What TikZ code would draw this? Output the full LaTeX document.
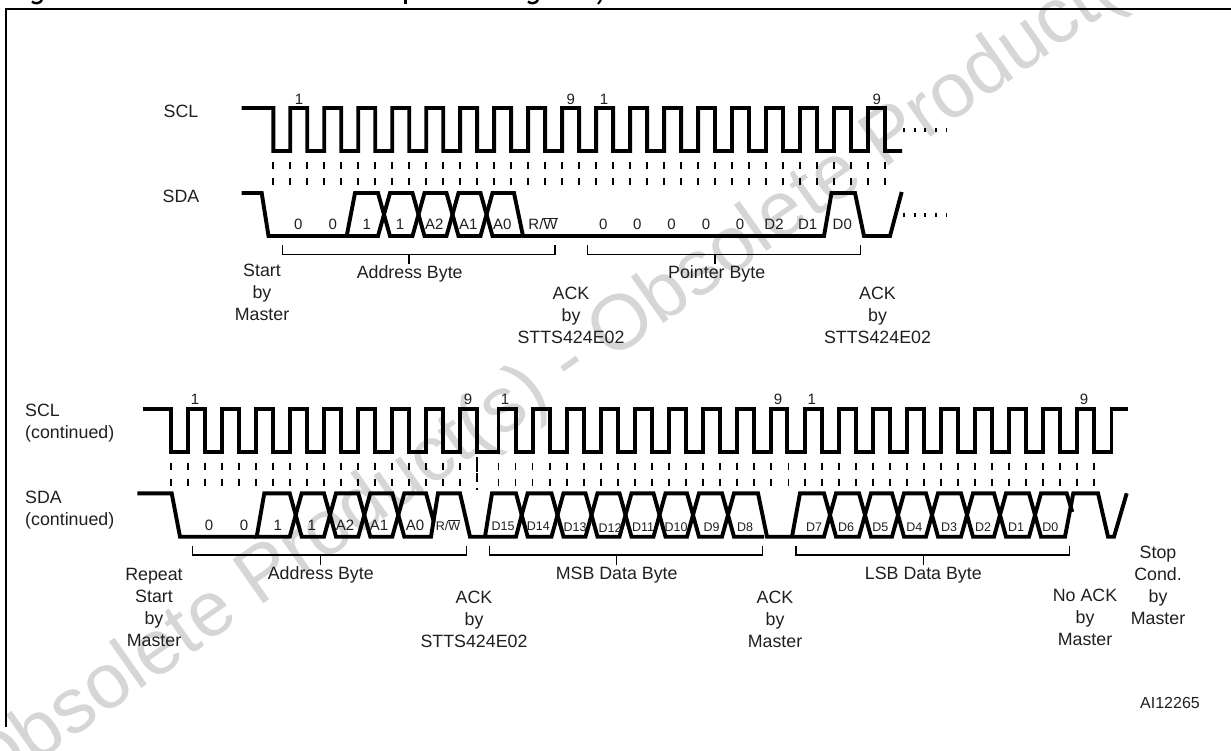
\documentclass[tikz,border=0pt]{standalone}
\usepackage{fontspec}
\setmainfont{Liberation Sans}
\definecolor{wm}{HTML}{D6D6D6}
\newcommand{\fsz}[2]{\fontsize{#1}{#2}\selectfont}
\newcommand{\ovw}[1]{$\overline{\mbox{#1}}$}
\newcommand{\cellrow}[3]{% hi lo list of left/right pairs
  \foreach \a/\b in {#3}{
    \draw[wave] (\a,{(#1+#2)/2}) -- (\a+6,#1) -- (\b-6,#1) -- (\b,{(#1+#2)/2}) -- (\b-6,#2) -- (\a+6,#2) -- cycle;}}
\newcommand{\tickrow}[5]{% start step count r1 r2
  \foreach \i in {0,...,#3}{
    \draw[tick] ({#1+#2*\i},#4) -- ++(0,7.5);
    \draw[tick] ({#1+#2*\i},#5) -- ++(0,7.5);}}
\newcommand{\bytebrk}[4]{% left right center ybar
  \draw[brk] (#1,#4-9) -- (#1,#4) -- (#2,#4) -- (#2,#4-9);
  \draw[brk] (#3,#4) -- (#3,#4+9.5);}
\tikzset{
  wave/.style={line width=3.9pt,line join=miter,miter limit=3,black},
  tick/.style={line width=1.7pt,black},
  brk/.style={line width=1.4pt,black},
  dots/.style={line width=3.4pt,dash pattern=on 2pt off 8.7pt,black},
  lab/.style={inner sep=0pt,anchor=mid,yshift=-3pt,text=black!88,font=\fsz{17.8}{22}},
  mlab/.style={inner sep=0pt,anchor=north,align=center,text=black!88,font=\fsz{17.8}{22}},
  cel/.style={inner sep=0pt,anchor=mid,yshift=-3pt,text=black!88,font=\fsz{15}{18}},
  num/.style={inner sep=0pt,anchor=mid,yshift=-3pt,text=black!88,font=\fsz{15}{18}},
  sm/.style={inner sep=0pt,anchor=mid,yshift=-2pt,text=black!88,font=\fsz{12.5}{15}},
}
\begin{document}
\begin{tikzpicture}[x=1pt,y=-1pt]
\useasboundingbox (0,0) rectangle (1231,751);
% watermark
\begin{scope}
\clip (0,0) rectangle (1231,751);
\node[inner sep=0pt,anchor=base west,rotate=35,text=wm,font=\fsz{78}{90}] (wmark) at (-15,799) {Obsolete Product(s) - Obsolete Product(s)};
\end{scope}
% frame
\draw[line width=2.6pt] (6,727) -- (6,9) -- (1231,9);
% clipped title descenders
\fill[black] (403.7,0) rectangle (406.7,4);
\foreach \x in {37,533}{\draw[line width=2.4pt] (\x-5,1.5) .. controls (\x-3,4) and (\x+3,4) .. (\x+5,0);}
\draw[line width=2pt] (601,0) -- (598,4);
% ---------- upper SCL
\draw[wave] (241.7,108) -- (273.3,108)
  \foreach \i in {0,2,...,34}{ -- ({273.3+16.99*\i},151) -- ({273.3+16.99*(\i+1)},151) -- ({273.3+16.99*(\i+1)},108) -- ({273.3+16.99*(\i+2)},108)}
  -- (885,151) -- (902,151);
\tickrow{273.3}{16.99}{36}{162}{178}
\draw[dots] (903,130) -- (946,130);
% ---------- upper SDA
\draw[wave] (241.7,193) -- (261.7,193) -- (268.5,236) -- (346.7,236);
\draw[wave] (346.7,236) -- (355,193) -- (378,193) -- (384,214.5) -- (378,236) -- cycle;
\cellrow{193}{236}{384/418.5,418.5/452.5,452.5/486.5}
\draw[wave] (486.5,214.5) -- (492.5,193) -- (514,193) -- (523,236) -- (824,236) -- (831.5,193) -- (855,193) -- (864,236) -- (890,236) -- (901.7,192);
\draw[wave] (486.5,214.5) -- (492.5,236) -- (521,236);
\draw[dots] (903,215) -- (946,215);
% braces upper
\bytebrk{282.3}{555}{409}{254.3}
\bytebrk{587.7}{860.7}{715}{254.3}
% labels upper
\node[lab] (scl1) at (181,112) {SCL};
\node[lab] (sda1) at (181,197) {SDA};
\foreach \x/\t in {299/1,570.7/9,604/1,876.7/9}{\node[num] at (\x,99) {\t};}
\foreach \x/\t in {298.3/0,332.7/0,366.7/1,400/1,434.3/A2,468.3/A1,502.3/A0,603.3/0,637.3/0,671.5/0,706/0,740/0,774/D2,807.7/D1,842.3/D0}{\node[cel] at (\x,224) {\t};}
\node[cel] (rw1) at (543,224) {R/\ovw{W}};
\node[mlab] (start1) at (262,264) {Start\\by\\Master};
\node[lab] (addr1) at (409.7,273) {Address Byte};
\node[lab] (ptr) at (716.7,273) {Pointer Byte};
\node[mlab] (ack1) at (571,287) {ACK\\by\\STTS424E02};
\node[mlab] (ack2) at (877.5,287) {ACK\\by\\STTS424E02};
% ---------- lower SCL
\draw[wave] (142.7,409) -- (171,409)
  \foreach \i in {0,2,...,16}{ -- ({171+17*\i},451.7) -- ({171+17*(\i+1)},451.7) -- ({171+17*(\i+1)},409) -- ({171+17*(\i+2)},409)}
  -- (477,451.7) -- (498.5,451.7) -- (498.5,409)
  \foreach \i in {0,2,...,14}{ -- ({498.5+17.05*\i+17.05},409) -- ({498.5+17.05*\i+17.05},451.7) -- ({498.5+17.05*\i+34.1},451.7) -- ({498.5+17.05*\i+34.1},409)}
  -- (787.3,409) -- (787.3,451.7) -- (804.7,451.7) -- (804.7,409)
  \foreach \i in {0,2,...,14}{ -- ({804.7+17*\i+17},409) -- ({804.7+17*\i+17},451.7) -- ({804.7+17*\i+34},451.7) -- ({804.7+17*\i+34},409)}
  -- (1093.7,409) -- (1093.7,451.7) -- (1111.5,451.7) -- (1111.5,409) -- (1127.7,409);
\tickrow{171}{17}{17}{462.5}{478.5}
\draw[tick,line width=1.2pt] (477,457) -- (477,471.5);
\draw[tick,line width=1.2pt] (477,473) -- (477,481.5);
\draw[tick,line width=1.2pt] (477,488) -- (477,489.5);
\tickrow{498.5}{17.05}{17}{462.5}{478.5}
\tickrow{804.7}{17}{17}{462.5}{478.5}
% ---------- lower SDA
\draw[wave] (137.3,493.3) -- (171.7,493.3) -- (180,536.7) -- (256.7,536.7);
\draw[wave] (256.7,536.7) -- (264.3,493.3) -- (289.7,493.3) -- (295.7,515) -- (289.7,536.7) -- cycle;
\cellrow{493.3}{536.7}{295.7/330,330/364.3,364.3/398.3}
\draw[wave] (398.3,515) -- (404.3,493.3) -- (426,493.3) -- (433.8,522);
\draw[wave] (398.3,515) -- (404.3,536.7) -- (431,536.7) -- (438,493.3) -- (460,493.3) -- (470,536.7) -- (485,536.7) -- (492,493.3) -- (516,493.3) -- (521.7,515) -- (516,536.7) -- (485,536.7);
\cellrow{493.3}{536.7}{521.7/557.5,557.5/591.5,591.5/625.5,625.5/659.5,659.5/693,693/728}
\draw[wave] (728,515) -- (734,493.3) -- (758,493.3) -- (767,536.7) -- (792,536.7) -- (800,493.3) -- (824,493.3) -- (830,515) -- (824,536.7) -- (790,536.7);
\draw[wave] (728,515) -- (734,536.7) -- (764,536.7);
\cellrow{493.3}{536.7}{830/865,865/898,898/932,932/967,967/1000,1000/1035}
\draw[wave] (1035,515) -- (1041,493.3) -- (1066.7,493.3) -- (1072.3,512);
\draw[wave] (1035,515) -- (1041,536.7) -- (1065,536.7) -- (1073.3,493.3) -- (1098,493.3) -- (1108,536.7) -- (1114,536.7) -- (1126.7,493.3);
% braces lower
\bytebrk{192.7}{466.7}{320.7}{555}
\bytebrk{489.3}{762.7}{616.7}{555}
\bytebrk{796}{1069.3}{923.3}{555}
% labels lower
\node[mlab,align=left,anchor=north west] (scl2) at (25,404) {SCL\\(continued)};
\node[mlab,align=left,anchor=north west] (sda2) at (25,491) {SDA\\(continued)};
\foreach \x/\t in {195/1,468/9,505/1,778/9,811.7/1,1084/9}{\node[num] at (\x,399) {\t};}
\foreach \x/\t in {209/0,244/0,277.7/1,311.7/1,345/A2,379/A1,415/A0}{\node[cel] at (\x,525) {\t};}
\node[sm] (rw2) at (448,526) {R/\ovw{W}};
\foreach \x/\y/\t in {503/526/D15,538.3/526/D14,575/527/D13,610/528/D12,643/527/D11,676/527/D10,711.7/527/D9,745/527/D8,814/527/D7,846/527/D6,880.3/527/D5,914.3/527/D4,949/527/D3,983/527/D2,1016/527/D1,1050.3/527/D0}{\node[sm] at (\x,\y) {\t};}
\node[mlab] (rep) at (154,568) {Repeat\\Start\\by\\Master};
\node[lab] (addr2) at (320.8,574) {Address Byte};
\node[mlab] (ack3) at (474,590.5) {ACK\\by\\STTS424E02};
\node[lab] (msb) at (616.7,574) {MSB Data Byte};
\node[mlab] (ack4) at (775,590.5) {ACK\\by\\Master};
\node[lab] (lsb) at (923.3,574) {LSB Data Byte};
\node[mlab] (nack) at (1085,589) {No ACK\\by\\Master};
\node[mlab] (stop) at (1158,546) {Stop\\Cond.\\by\\Master};
\node[lab,font=\fsz{16}{18}] (ai) at (1170,703) {AI12265};
\end{tikzpicture}
\end{document}
